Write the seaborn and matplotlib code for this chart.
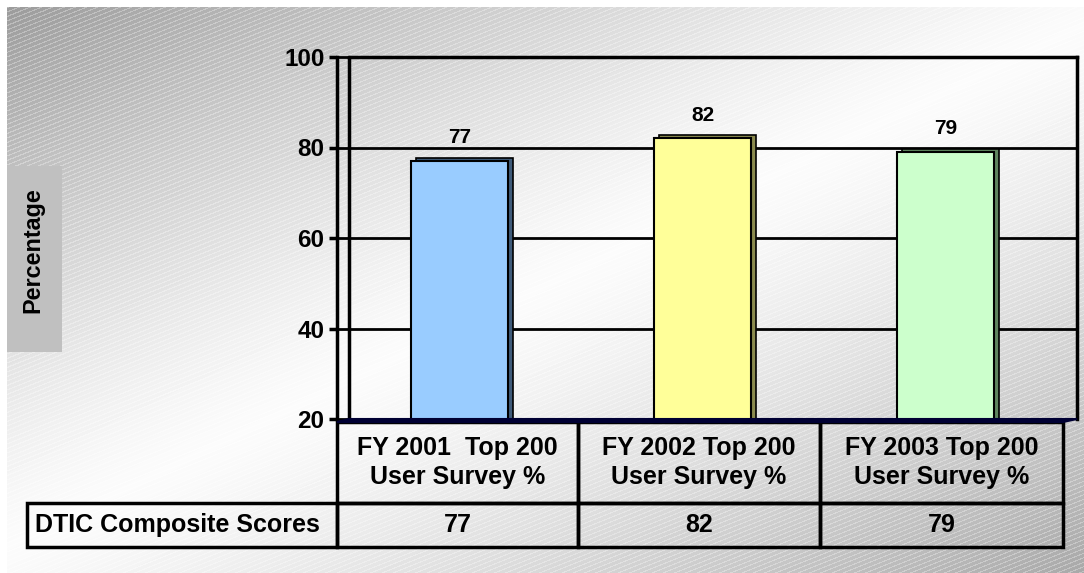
import numpy as np
import pandas as pd
import matplotlib
matplotlib.use("Agg")
import matplotlib.pyplot as plt
import matplotlib.transforms as mtransforms
from matplotlib.patches import Polygon, Rectangle
from matplotlib.table import Table
import seaborn as sns

# ---- data -------------------------------------------------------------
categories = [
    "FY 2001  Top 200\nUser Survey %",
    "FY 2002 Top 200\nUser Survey %",
    "FY 2003 Top 200\nUser Survey %",
]
scores = [77, 82, 79]
row_label = "DTIC Composite Scores"
y_ticks = [20, 40, 60, 80, 100]
y_label = "Percentage"
face_colors = ["#99ccff", "#ffff99", "#ccffcc"]
side_colors = ["#3f5b7a", "#8a8a4e", "#5f855f"]

# ---- style ------------------------------------------------------------
sns.set_theme(style="white")
plt.rcParams["font.family"] = ["Liberation Sans", "DejaVu Sans"]
plt.rcParams["font.weight"] = "bold"
plt.rcParams["text.color"] = "black"

W, H, DPI = 1084, 573, 100
fig = plt.figure(figsize=(W / DPI, H / DPI), dpi=DPI)
fig.patch.set_facecolor("white")

# ---- slide background: diagonal grey gradient with fine hatching --------
yy, xx = np.mgrid[0:H, 0:W].astype(float)
t = (460 * xx + 950 * yy) / (460 * W + 950 * H)
light = 0.985
lo = np.where(t < 0.5, 0.60, 0.66)
u = np.where(t < 0.5, t / 0.5, (1 - t) / 0.5)
base = lo + (light - lo) * (1 - (1 - u) ** 1.3)
stripe = ((yy + 0.4 * xx) % 4.5) < 1.2
img = base + stripe * (1 - base) * 0.3
img[:7, :] = 1.0
img[:, :7] = 1.0
bg = fig.figimage(img, xo=0, yo=0, origin="upper", cmap="gray", vmin=0, vmax=1)
bg.set_zorder(-10)

# ---- chart axes (back wall of the 3-D plot) -----------------------------
ax_l, ax_r, ax_t, ax_b = 349, 1077, 57, 419
ax = fig.add_axes([ax_l / W, (H - ax_b) / H, (ax_r - ax_l) / W, (ax_b - ax_t) / H])
ax.set_facecolor("none")
aw, ah = ax_r - ax_l, ax_b - ax_t

df = pd.DataFrame({"category": categories, "score": scores})
sns.barplot(
    data=df, x="category", y="score", hue="category", palette=face_colors,
    saturation=1, width=0.4, edgecolor="black", linewidth=1.5,
    legend=False, ax=ax, zorder=2,
)
bar_containers = list(ax.containers)
rects = [r for c in bar_containers for r in c]

# side/top faces of the bars, offset up and to the right
side_tr = mtransforms.offset_copy(ax.transData, fig=fig, x=5, y=3, units="dots")
ax.bar(
    [r.get_x() for r in rects], [r.get_height() for r in rects],
    width=rects[0].get_width(), align="edge", color=side_colors,
    edgecolor="black", linewidth=1.2, transform=side_tr, zorder=1.5,
)

for c in bar_containers:
    ax.bar_label(c, padding=10, fontsize=15, fontweight="bold", color="black")

ax.set_ylim(y_ticks[0], y_ticks[-1])
ax.set_xlim(-0.457, 2.543)
ax.set_xlabel("")
ax.set_ylabel("")
ax.tick_params(axis="x", bottom=False, labelbottom=False)

ax.set_yticks(y_ticks, [str(v) for v in y_ticks])
ax.tick_params(axis="y", left=True, length=6, width=2.5, color="black",
               pad=3, direction="out", labelcolor="black", labelsize=17.5)
for lab in ax.get_yticklabels():
    lab.set_fontweight("bold")
ax.set_axisbelow(True)
ax.yaxis.grid(True, color="black", linewidth=2)
ax.xaxis.grid(False)

depth_x = 12 / aw
depth_y = 3 / ah
ax.spines["left"].set_position(("outward", 12 * 72 / DPI))
ax.spines["left"].set_linewidth(2.5)
ax.spines["left"].set_color("black")
ax.spines["bottom"].set_visible(False)
for side in ("top", "right"):
    ax.spines[side].set_linewidth(2.5)
    ax.spines[side].set_color("black")

# left edge of the back wall and links from the front axis to the grid
ax.plot([0, 0], [0, 1], transform=ax.transAxes, color="black", lw=2.5,
        clip_on=False, zorder=3)
for v in y_ticks:
    ax.plot([-depth_x, 0], [v, v], transform=ax.get_yaxis_transform(),
            color="black", lw=2, clip_on=False, zorder=3)

# floor of the 3-D plot
floor = Polygon(
    [(0, 0), (1, 0), (1 - 14 / aw, -depth_y), (-depth_x, -depth_y)],
    closed=True, transform=ax.transAxes, facecolor="#000033",
    edgecolor="#000033", lw=1.5, clip_on=False, zorder=3,
)
ax.add_patch(floor)

# ---- data table under the chart -----------------------------------------
col_px = [310, 241, 242, 243]
row_px = [81, 44]
tbl_left, tbl_top = 27, 422
tb = Table(ax, bbox=[(tbl_left - ax_l) / aw, (ax_b - (tbl_top + sum(row_px))) / ah,
                     sum(col_px) / aw, sum(row_px) / ah])
cell_text = [[""] + categories, [row_label] + [str(v) for v in scores]]
for r, row in enumerate(cell_text):
    for c, txt in enumerate(row):
        loc = "left" if (r == 1 and c == 0) else "center"
        cell = tb.add_cell(r, c, width=col_px[c], height=row_px[r], text=txt,
                           loc=loc, facecolor="none", edgecolor="black")
        cell.visible_edges = "open" if (r == 0 and c == 0) else "closed"
        cell.set_linewidth(2.5)
        if loc == "left":
            cell.PAD = 0.026
        cell.get_text().set_fontweight("bold")
        cell.get_text().set_color("black")
        cell.get_text().set_linespacing(1.3)
tb.auto_set_font_size(False)
tb.set_fontsize(18)
ax.add_table(tb)

# ---- y-axis title in a grey box ------------------------------------------
fig.add_artist(Rectangle((7 / W, (H - 352) / H), 55 / W, 186 / H,
                         transform=fig.transFigure, facecolor="#c0c0c0",
                         edgecolor="none"))
fig.text(33 / W, (H - 250) / H, y_label, rotation=90, ha="center", va="center",
         fontsize=16.8, fontweight="bold", color="black")

fig.savefig("out.png", dpi=DPI)
